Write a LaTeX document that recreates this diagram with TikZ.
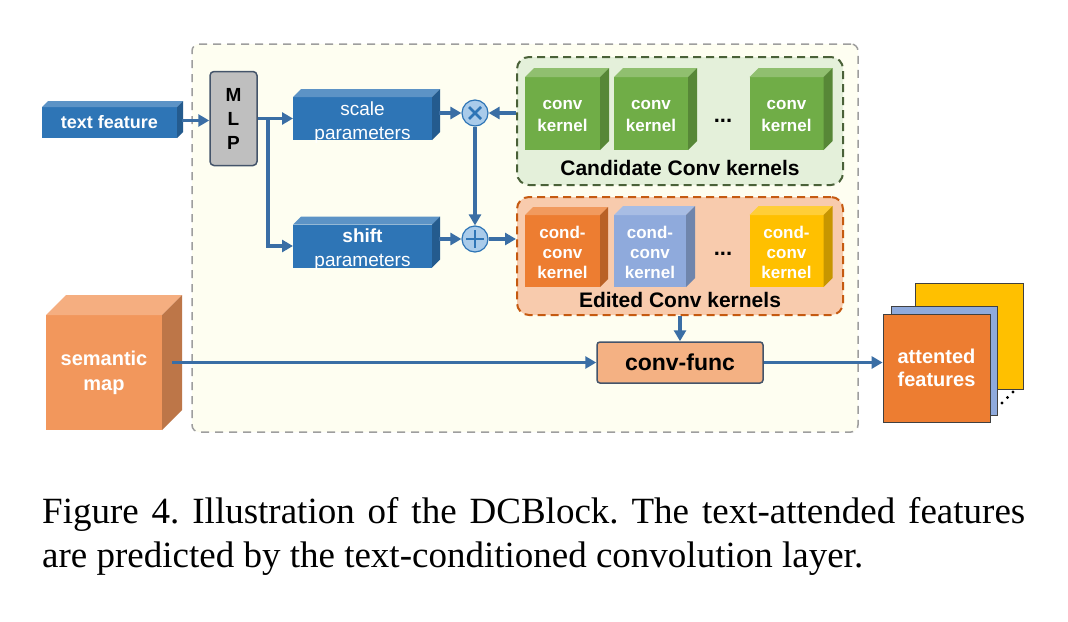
\documentclass[tikz,border=0pt]{standalone}
\usepackage{fontspec}
\setmainfont{Liberation Serif}
\newfontfamily\arial{Liberation Sans}
\usetikzlibrary{arrows.meta,calc}

\definecolor{boxblue}{HTML}{2E75B6}
\definecolor{arrowblue}{HTML}{3A6EA5}
\definecolor{kgreen}{HTML}{70AD47}
\definecolor{korange}{HTML}{ED7D31}
\definecolor{kblue}{HTML}{8FAADC}
\definecolor{kyellow}{HTML}{FFC000}
\definecolor{semorange}{HTML}{F2975C}
\definecolor{outerfill}{HTML}{FEFEF1}
\definecolor{candfill}{HTML}{E4F0DA}
\definecolor{candline}{HTML}{4A6138}
\definecolor{editfill}{HTML}{F8CBAD}
\definecolor{editline}{HTML}{C55A11}
\definecolor{cffill}{HTML}{F4B183}
\definecolor{darkslate}{HTML}{44546A}
\definecolor{circfill}{HTML}{A9CBEA}

\newcommand\cubebox[8]{%
  \node[cubeface,fill=#6,minimum width=#3,minimum height=#4,#7] (#1) at #2 {#8};
  \fill[#6!78!white] (#1.north west) -- ++(#5,-#5) -- ($(#1.north east)+(#5,-#5)$) -- (#1.north east) -- cycle;
  \fill[#6!78!black] (#1.north east) -- ++(#5,-#5) -- ($(#1.south east)+(#5,-#5)$) -- (#1.south east) -- cycle;
}

\tikzset{
  cubeface/.style={rectangle,inner sep=0pt,outer sep=0pt,text=white,align=center,font=\arial\bfseries},
  cubetext/.style={inner sep=0pt,text=white,align=center},
  arr/.style={draw=arrowblue,line width=3.2pt,-{Triangle[length=11pt,width=12pt]}},
  opcirc/.style={circle,minimum size=26pt,inner sep=0pt,fill=circfill,draw=boxblue,line width=1.2pt},
  opsym/.style={draw=boxblue,line width=2.8pt},
  groupbox/.style={rectangle,rounded corners=12pt,line width=2pt,dash pattern=on 8pt off 5pt,inner sep=0pt},
  grouplabel/.style={font=\arial\bfseries\fontsize{21}{24}\selectfont,text=black,inner sep=0pt},
  dotsnode/.style={font=\arial\bfseries\fontsize{22}{24}\selectfont,text=black,inner sep=0pt,anchor=base},
  featsq/.style={rectangle,draw=black!75,line width=0.8pt,inner sep=0pt}
}

\begin{document}
\begin{tikzpicture}[x=1pt,y=-1pt]
\useasboundingbox (0,0) rectangle (1068,621);
\fill[white] (0,0) rectangle (1068,621);

% outer dashed frame
\node[rectangle,rounded corners=7pt,fill=outerfill,draw=black!38,line width=1.5pt,dash pattern=on 8pt off 6pt,minimum width=666pt,minimum height=388pt,inner sep=0pt] (outer) at (525,238) {};

% group boxes
\node[groupbox,fill=candfill,draw=candline,minimum width=326pt,minimum height=128pt] (cand) at (680,121) {};
\node[groupbox,fill=editfill,draw=editline,minimum width=326pt,minimum height=118pt] (edit) at (680,256) {};
\node[grouplabel] (candlab) at (680,168) {Candidate Conv kernels};
\node[grouplabel] (editlab) at (680,300) {Edited Conv kernels};

% text feature
\cubebox{tf}{(109.5,122.5)}{135pt}{31pt}{6}{boxblue}{font=\arial\bfseries\fontsize{18}{20}\selectfont}{text feature}

% MLP
\node[rectangle,rounded corners=4pt,fill=black!25,draw=darkslate,line width=1.5pt,minimum width=47pt,minimum height=94pt,inner sep=0pt,align=center,font=\arial\bfseries\fontsize{19}{24}\selectfont] (mlp) at (233.5,118.5) {M\\L\\P};

% scale / shift
\cubebox{scale}{(362.5,118.5)}{139pt}{43pt}{8}{boxblue}{}{}
\node[cubetext,font=\arial\fontsize{19}{24}\selectfont] (scaletext) at (362.5,122.5) {scale\\parameters};
\cubebox{shift}{(362.5,246)}{139pt}{43pt}{8}{boxblue}{}{}
\node[cubetext,font=\arial\fontsize{19}{24}\selectfont] (shifttext) at (362.5,250) {\textbf{shift}\\parameters};

% operators
\node[opcirc] (mul) at (475,113) {};
\draw[opsym] ($(mul)+(-6,-6)$) -- ($(mul)+(6,6)$);
\draw[opsym] ($(mul)+(-6,6)$) -- ($(mul)+(6,-6)$);
\node[opcirc] (add) at (475,239) {};
\draw[opsym] ($(add)+(-9,0)$) -- ($(add)+(9,0)$);
\draw[opsym] ($(add)+(0,-9)$) -- ($(add)+(0,9)$);

% candidate kernels
\cubebox{k1}{(562.5,113.5)}{75pt}{73pt}{9}{kgreen}{}{}
\cubebox{k2}{(651,113.5)}{74pt}{73pt}{9}{kgreen}{}{}
\cubebox{k3}{(786.5,113.5)}{74pt}{73pt}{9}{kgreen}{}{}
\foreach \n in {k1,k2,k3}
  \node[cubetext,font=\arial\bfseries\fontsize{17}{22}\selectfont] (\n text) at ($(\n)+(0,3)$) {conv\\kernel};
\node[dotsnode] (kdots) at (723,122) {...};

% edited kernels
\cubebox{e1}{(562.5,251)}{75pt}{72pt}{8}{korange}{}{}
\cubebox{e2}{(650,251)}{72pt}{72pt}{9}{kblue}{}{}
\cubebox{e3}{(786.5,251)}{74pt}{72pt}{9}{kyellow}{}{}
\foreach \n in {e1,e2,e3}
  \node[cubetext,font=\arial\bfseries\fontsize{17}{20}\selectfont] (\n text) at ($(\n)+(0,1.5)$) {cond-\\conv\\kernel};
\node[dotsnode] (edots) at (723,255) {...};

% semantic map
\cubebox{sem}{(104,372.5)}{116pt}{115pt}{20}{semorange}{font=\arial\bfseries\fontsize{20}{25}\selectfont}{semantic\\map}

% conv-func
\node[rectangle,rounded corners=3pt,fill=cffill,draw=darkslate,line width=1.5pt,minimum width=166pt,minimum height=41pt,inner sep=0pt,font=\arial\bfseries\fontsize{23}{26}\selectfont] (cf) at (680,362.5) {conv-func};

% attended features
\node[featsq,fill=kyellow,minimum width=108pt,minimum height=106pt] (fy) at (969,336) {};
\node[featsq,fill=kblue,minimum width=106pt,minimum height=109pt] (fb) at (944,360.5) {};
\node[featsq,fill=korange,minimum width=107pt,minimum height=108pt,text=white,align=center,font=\arial\bfseries\fontsize{20}{23}\selectfont] (att) at (936.5,368) {attented\\features};
\fill[black] (1002,403) circle (1.6) (1007.5,397.5) circle (1.6) (1013,392) circle (1.6);

% connectors
\draw[arr] ($(tf.east)+(5,-2)$) -- ($(mlp.west)+(0,2)$);
\coordinate (br) at (268,118.5);
\draw[arr] (mlp.east) -- (scale.west);
\draw[arr] (br) |- (shift.west);
\draw[arr] ($(scale.east)+(7,-5.5)$) -- (mul.west);
\draw[arr] (cand.west |- mul) -- (mul.east);
\draw[arr] (mul) -- (add);
\draw[arr] ($(shift.east)+(7,-7)$) -- (add.west);
\draw[arr] (add.east) -- (edit.west |- add);
\draw[arr] (edit.south -| cf) -- (cf.north);
\draw[arr] ($(sem.east)+(10,-10)$) -- (cf.west);
\draw[arr] (cf.east) -- (att.west |- cf);

% caption
\node[anchor=base west,inner sep=0pt,font=\fontsize{37}{44}\selectfont] (cap1) at (42,523) {\makebox[983pt][s]{Figure 4.\ Illustration of the DCBlock.\ The text-attended features}};
\node[anchor=base west,inner sep=0pt,font=\fontsize{37}{44}\selectfont] (cap2) at (42,567) {are predicted by the text-conditioned convolution layer.};
\end{tikzpicture}
\end{document}
